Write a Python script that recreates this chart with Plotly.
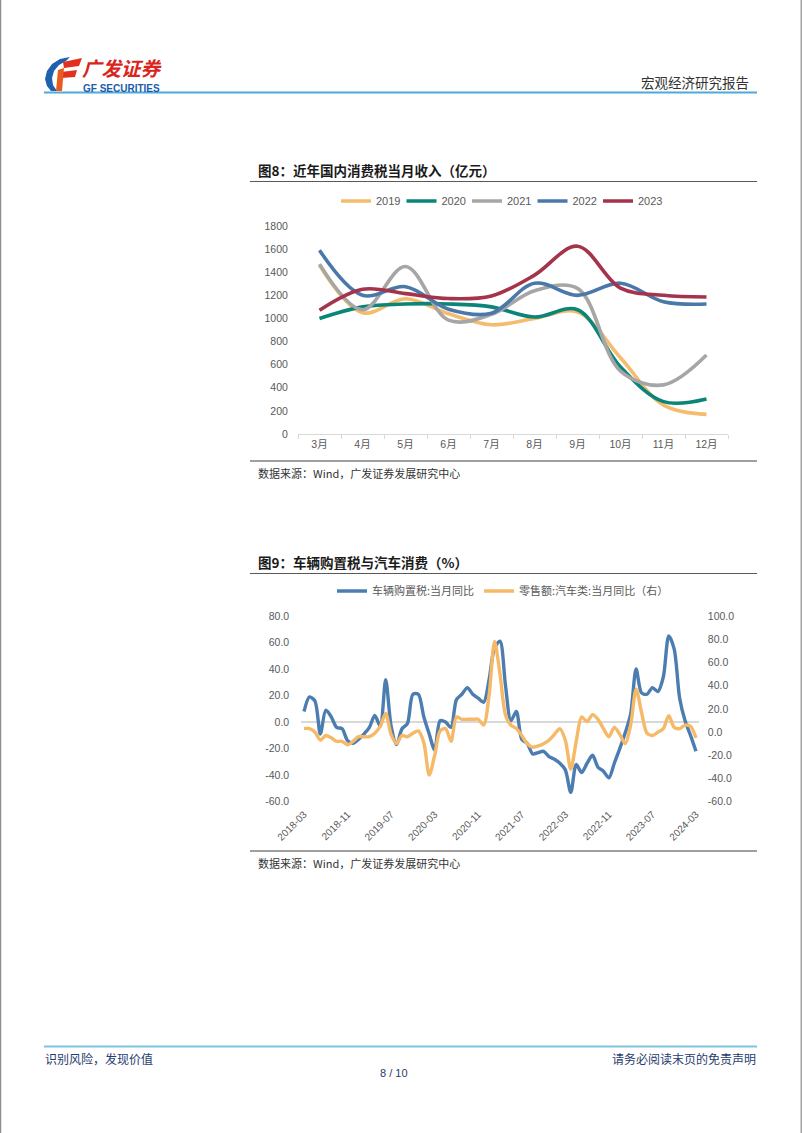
import plotly.graph_objects as go
import pandas as pd

W, H = 802, 1133


def X(px):
    return px / W


def Y(py):
    return 1 - py / H


# ---------------- data: figure 8 ----------------
months8 = ["3月", "4月", "5月", "6月", "7月", "8月", "9月", "10月", "11月", "12月"]
y2019 = [1460, 1050, 1170, 1040, 945, 1000, 1055, 660, 250, 170]
y2020 = [1000, 1100, 1125, 1125, 1100, 1012, 1075, 580, 280, 303]
y2021 = [1470, 1075, 1450, 985, 1035, 1240, 1260, 545, 425, 683]
y2022 = [1590, 1200, 1275, 1080, 1045, 1305, 1200, 1305, 1145, 1125]
y2023 = [1070, 1252, 1215, 1172, 1195, 1375, 1625, 1263, 1200, 1185]
years = ["2019", "2020", "2021", "2022", "2023"]
colors8 = ["#F5BC6E", "#0B8577", "#A6A6A6", "#4A78A8", "#A5334B"]

# ---------------- data: figure 9 ----------------
months9 = list(pd.period_range("2018-03", "2024-03", freq="M").strftime("%Y-%m"))
purchase_tax_yoy = [8, 19, 16, -9, 9, 4, -4, -5, -14, -16,
                    -13, -9, -4, 5, -3, 32, -3, -17, -5, -1,
                    21, 21, 4, -9, -21, 1, 0, -4, 17, 21,
                    26, 21, 18, 15, 32, 56, 61, 28, 1, 8,
                    -13, -16, -24, -23, -22, -26, -28, -31, -36, -53,
                    -32, -38, -31, -25, -34, -37, -42, -31, -20, -8,
                    6, 40, 22, 21, 26, 23, 34, 65, 55, 18,
                    1, -10, -22]
auto_retail_yoy = [3, 3, 0, -7, -3, -5, -8, -8, -11, -8,
                   -4, -4, -4, -1, 5, 16, -2, -10, -3, -4,
                   -1, 1, -9, -37, -20, 1, 3, -8, 13, 11,
                   11, 11, 11, 6, 32, 78, 50, 15, 6, 3,
                   -3, -10, -13, -12, -10, -7, -2, 3, -7, -32,
                   -8, 13, 9, 15, 11, 3, -4, 4, -2, -10,
                   6, 37, 17, -1, -3, 0, 3, 14, 4, 3,
                   6, 5, -5]
name_blue = "车辆购置税:当月同比"
name_orange = "零售额:汽车类:当月同比（右）"
left_ticks = [-60, -40, -20, 0, 20, 40, 60, 80]
right_ticks = [-60, -40, -20, 0, 20, 40, 60, 80, 100]
xtick_months = months9[::8]

NUM = "Liberation Sans, Arial, Noto Sans CJK SC"
CJK = "Noto Sans CJK SC"
GRAY = "#595959"

fig = go.Figure()

for yr, vals, c in zip(years, [y2019, y2020, y2021, y2022, y2023], colors8):
    fig.add_trace(go.Scatter(
        x=months8, y=vals, name=yr, mode="lines",
        line=dict(color=c, width=3.6, shape="spline", smoothing=1.0),
        xaxis="x", yaxis="y", legend="legend", hoverinfo="skip"))

fig.add_trace(go.Scatter(
    x=months9, y=purchase_tax_yoy, name=name_blue, mode="lines",
    line=dict(color="#4C7DB0", width=3.4, shape="spline", smoothing=0.8),
    xaxis="x2", yaxis="y2", legend="legend2", hoverinfo="skip"))
fig.add_trace(go.Scatter(
    x=months9, y=auto_retail_yoy, name=name_orange, mode="lines",
    line=dict(color="#F5B967", width=3.4, shape="spline", smoothing=0.8),
    xaxis="x2", yaxis="y3", legend="legend2", hoverinfo="skip"))

shapes = []
annotations = []


def hline(x0, x1, y, color, width):
    shapes.append(dict(type="line", xref="paper", yref="paper",
                       x0=X(x0), x1=X(x1), y0=Y(y), y1=Y(y),
                       line=dict(color=color, width=width)))


def text(px, py, s, size, color, family=CJK, anchor="left", bold=False):
    if bold:
        s = "<b>" + s + "</b>"
    annotations.append(dict(xref="paper", yref="paper", x=X(px), y=Y(py),
                            text=s, showarrow=False, xanchor=anchor,
                            yanchor="middle", borderpad=0,
                            font=dict(size=size, color=color, family=family)))


def path(points, color):
    d = "M " + " L ".join(f"{X(a):.5f},{Y(b):.5f}" for a, b in points) + " Z"
    shapes.append(dict(type="path", xref="paper", yref="paper", path=d,
                       fillcolor=color, line=dict(width=0)))


# page frame edges
shapes.append(dict(type="line", xref="paper", yref="paper", x0=X(0.6), x1=X(0.6), y0=0, y1=1,
                   line=dict(color="#8C8C8C", width=1.2)))
shapes.append(dict(type="line", xref="paper", yref="paper", x0=X(801.2), x1=X(801.2), y0=0, y1=1,
                   line=dict(color="#8C8C8C", width=1.2)))

# header
path([(70, 57), (60, 59), (52, 64), (47, 71), (45, 79), (47, 86), (51, 91), (57, 91),
      (53, 85), (52, 78), (54, 71), (59, 65), (66, 61)], "#1F5FAE")
path([(63, 62), (82, 58), (79, 66), (64, 68)], "#E2311D")
path([(61, 72), (77, 70), (75, 77), (61, 78)], "#E2311D")
path([(58, 70), (64, 68), (62, 91), (56, 91)], "#E95A1E")
text(81, 67.5, "<i>广发证券</i>", 19.5, "#D9251C", family=CJK, bold=True)
text(82, 88.5, "GF SECURITIES", 10, "#1C5BAA", family="Liberation Sans, Arial", bold=True)
text(750, 82, "宏观经济研究报告", 13.5, "#333333", anchor="right")
hline(44, 757, 92.5, "#4AACD6", 2)

# figure 8 frame
text(257, 170, "图8：近年国内消费税当月收入（亿元）", 13.5, "#1A1A1A", bold=True)
hline(250, 757, 181.5, "#595959", 1.2)
hline(250, 757, 461, "#404040", 1.2)
text(257, 472.5, "数据来源：Wind，广发证券发展研究中心", 11, "#333333")

# figure 9 frame
text(257, 562, "图9：车辆购置税与汽车消费（%）", 13.5, "#1A1A1A", bold=True)
hline(250, 757, 573.5, "#595959", 1.2)
hline(250, 757, 851, "#404040", 1.2)
text(257, 862.5, "数据来源：Wind，广发证券发展研究中心", 11, "#333333")

# footer
hline(44, 757, 1046.5, "#7EC3DF", 2)
text(44, 1058, "识别风险，发现价值", 12, "#1F3C6E")
text(757, 1058, "请务必阅读末页的免责声明", 12, "#1F3C6E", anchor="right")
text(394, 1073, "8 / 10", 11, "#1F3C6E", family="Liberation Sans, Arial", anchor="center")

fig.update_layout(
    width=W, height=H, margin=dict(l=0, r=0, t=0, b=0, pad=0, autoexpand=False),
    paper_bgcolor="white", plot_bgcolor="rgba(0,0,0,0)",
    font=dict(family=NUM, color=GRAY),
    shapes=shapes, annotations=annotations,
    xaxis=dict(domain=[X(298), X(728)], anchor="y", type="category", automargin=False,
               range=[-0.5, 9.5], showgrid=False, zeroline=False,
               showline=True, linecolor="#D9D9D9", linewidth=1,
               ticks="outside", tickson="boundaries", ticklen=4, tickcolor="#D9D9D9",
               tickfont=dict(size=10.5, color=GRAY, family=NUM)),
    yaxis=dict(domain=[Y(434), Y(226)], anchor="x", range=[0, 1800], dtick=200, automargin=False,
               showgrid=False, zeroline=False, showline=False,
               ticks="outside", ticklen=7, tickcolor="rgba(0,0,0,0)",
               tickfont=dict(size=10.5, color=GRAY, family=NUM)),
    xaxis2=dict(domain=[X(301.3), X(698.7)], anchor="y2", type="category", automargin=False,
                range=[-0.5, 72.5], showgrid=False, zeroline=False, showline=False,
                tickmode="array", tickvals=xtick_months, ticktext=xtick_months,
                tickangle=-45, ticks="outside", ticklen=2, tickcolor="rgba(0,0,0,0)",
                tickfont=dict(size=10, color=GRAY, family=NUM)),
    yaxis2=dict(domain=[Y(801.7), Y(616)], anchor="x2", range=[-60, 80], automargin=False,
                tickmode="array", tickvals=left_ticks,
                ticktext=[f"{v:.1f}" for v in left_ticks],
                showgrid=False, showline=False,
                zeroline=True, zerolinecolor="#D9D9D9", zerolinewidth=1.5,
                ticks="outside", ticklen=9, tickcolor="rgba(0,0,0,0)",
                tickfont=dict(size=10.5, color=GRAY, family=NUM)),
    yaxis3=dict(overlaying="y2", side="right", anchor="x2", range=[-60, 100], automargin=False,
                tickmode="array", tickvals=right_ticks,
                ticktext=[f"{v:.1f}" for v in right_ticks],
                showgrid=False, showline=False, zeroline=False,
                ticks="outside", ticklen=6, tickcolor="rgba(0,0,0,0)",
                tickfont=dict(size=10.5, color=GRAY, family=NUM)),
    legend=dict(orientation="h", x=X(336), y=Y(201), xanchor="left", yanchor="middle",
                entrywidth=20.5, entrywidthmode="pixels", itemwidth=30,
                font=dict(size=11, color=GRAY, family=NUM), bgcolor="rgba(0,0,0,0)"),
    legend2=dict(orientation="h", x=X(332), y=Y(591), xanchor="left", yanchor="middle",
                 itemwidth=30,
                 font=dict(size=11, color=GRAY, family=CJK), bgcolor="rgba(0,0,0,0)"),
    showlegend=True,
)

fig.write_html("out.html", config={"displayModeBar": False},
               post_script="document.body.style.margin='0';document.body.style.overflow='hidden';")
